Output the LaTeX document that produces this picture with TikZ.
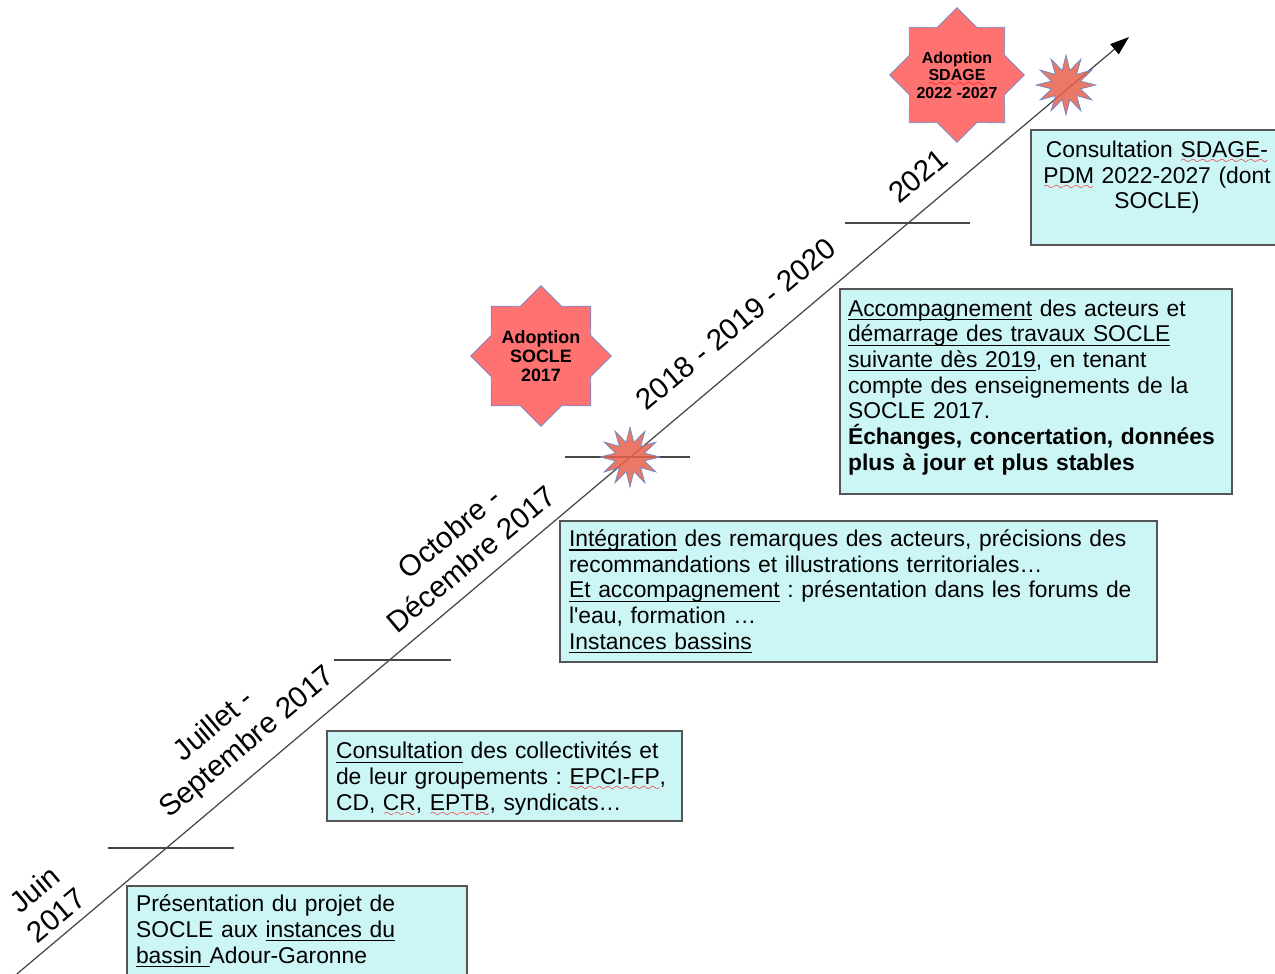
\documentclass[tikz,border=0pt]{standalone}
\usepackage{fontspec}
\setmainfont{Liberation Sans}
\usepackage{xcolor}
\usetikzlibrary{arrows.meta,shapes.geometric}

\definecolor{boxfill}{RGB}{204,245,245}
\definecolor{boxline}{RGB}{85,85,85}
\definecolor{starfill}{RGB}{255,114,114}
\definecolor{starline}{RGB}{105,138,200}
\definecolor{burstfill}{RGB}{232,96,76}
\definecolor{axisgray}{RGB}{70,70,70}

% underline and red wavy underline (spell check marks)
\newsavebox\ulbox
\font\wavefont=lasy6
\newcommand\uln[1]{\leavevmode\sbox\ulbox{#1}%
    \rlap{\rule[-2.2pt]{\wd\ulbox}{0.6pt}}\usebox\ulbox}
\newcommand\spellerr[1]{\leavevmode\sbox\ulbox{#1}%
    \rlap{\lower3.5pt\hbox to \wd\ulbox{\color{red}\xleaders\hbox{\wavefont\char58}\hfil}}%
    \usebox\ulbox}

\begin{document}
\begin{tikzpicture}[
    x=0.02cm, y=-0.02cm,
    infobox/.style={
        draw=boxline,
        line width=0.8pt,
        fill=boxfill,
        align=left,
        inner xsep=0.18cm,
        inner ysep=0pt,
        font=\fontsize{13}{14.6}\selectfont\frenchspacing
    },
    datelabel/.style={
        rotate=40,
        align=center,
        font=\fontsize{16.8}{19.3}\selectfont
    },
    adoptstar/.style={
        star,
        star points=8,
        star point ratio=1.31,
        draw=starline,
        fill=starfill,
        inner sep=-4pt,
        align=center
    },
    burst/.style={
        star,
        star points=12,
        star point ratio=2,
        minimum size=1.2cm,
        inner sep=0pt,
        draw=starline,
        fill=burstfill,
        fill opacity=0.85
    },
    yearmark/.style={
        axisgray,
        line width=0.8pt
    }
]

\useasboundingbox (0,0) rectangle (1275,974);

% ==================================================
% Time axis
% ==================================================

\coordinate (start) at (5,984);
\coordinate (end) at (1129,37);

\draw[axisgray, line width=0.7pt, -{Triangle[length=3.8mm, width=2.6mm, black]}]
    (start) -- (end);

% Period marks
\draw[yearmark] (108,848) -- (234,848);
\draw[yearmark] (334,660) -- (451,660);
\draw[yearmark] (565,457) -- (690,457);
\draw[yearmark] (845,223) -- (970,223);


% ==================================================
% Dates along the axis
% ==================================================

\node[datelabel] (juin) at (45,902) {Juin\\2017};
\node[datelabel] (juillet) at (237,730) {Juillet -\hspace*{1em}\\Septembre 2017};
\node[datelabel] (octobre) at (460,546) {Octobre -\\Décembre 2017};
\node[datelabel] (periode) at (736,324) {2018 - 2019 - 2020};
\node[datelabel] (annee) at (918,176) {2021};


% ==================================================
% Milestones
% ==================================================

\node[adoptstar, minimum size=2.82cm,
      font=\bfseries\fontsize{10.2}{11}\selectfont] (socle) at (541,356)
{Adoption\\SOCLE\\2017};

\node[adoptstar, minimum size=2.7cm,
      font=\bfseries\fontsize{9.1}{9.9}\selectfont] (sdage) at (957,75)
{Adoption\\\spellerr{SDAGE}\\2022 -2027};

\node[burst] (burstA) at (630,457) {};
\node[burst] (burstB) at (1066,85) {};


% ==================================================
% Steps
% ==================================================

\node[
    infobox,
    text width=6.44cm,
    minimum width=6.8cm,
    minimum height=1.8cm
] (presentation) at (297,931)
{
    Présentation du projet de\\
    SOCLE aux \uln{instances du}\\
    \uln{bassin\ }Adour-Garonne
};

\node[
    infobox,
    text width=6.74cm,
    minimum width=7.1cm,
    minimum height=1.8cm
] (consultation) at (504.5,776)
{
    \rule{0pt}{0.46cm}\uln{Consultation} des collectivités et\\
    de leur groupements : \spellerr{EPCI-FP},\\
    CD, \spellerr{CR}, \spellerr{EPTB}, syndicats…
};

\node[
    infobox,
    text width=11.58cm,
    minimum width=11.94cm,
    minimum height=2.82cm
] (integration) at (858.5,591.5)
{
    \uln{Intégration} des remarques des acteurs, précisions des\\
    recommandations et illustrations territoriales…\\
    \uln{Et accompagnement} : présentation dans les forums de\\
    l\textquotesingle eau, formation …\\
    \uln{Instances bassins}
};

\node[
    infobox,
    inner xsep=0.16cm,
    text width=7.52cm,
    minimum width=7.84cm,
    minimum height=4.1cm
] (accompagnement) at (1036,391.5)
{
    \uln{Accompagnement} des acteurs et\\
    \uln{démarrage des travaux SOCLE}\\
    \uln{suivante dès 2019}, en tenant\\
    compte des enseignements de la\\
    SOCLE 2017.\\
    \textbf{Échanges, concertation, données}\\
    \textbf{plus à jour et plus stables}\rule[-0.26cm]{0pt}{0.26cm}
};

\node[
    infobox,
    align=center,
    inner xsep=0.08cm,
    text width=4.88cm,
    minimum width=5.04cm,
    minimum height=2.3cm
] (sdageconsult) at (1157,187.5)
{
    Consultation \spellerr{SDAGE-}\\
    \spellerr{PDM} 2022-2027 (dont\\
    SOCLE)\rule[-0.5cm]{0pt}{0.5cm}
};

\end{tikzpicture}
\end{document}
